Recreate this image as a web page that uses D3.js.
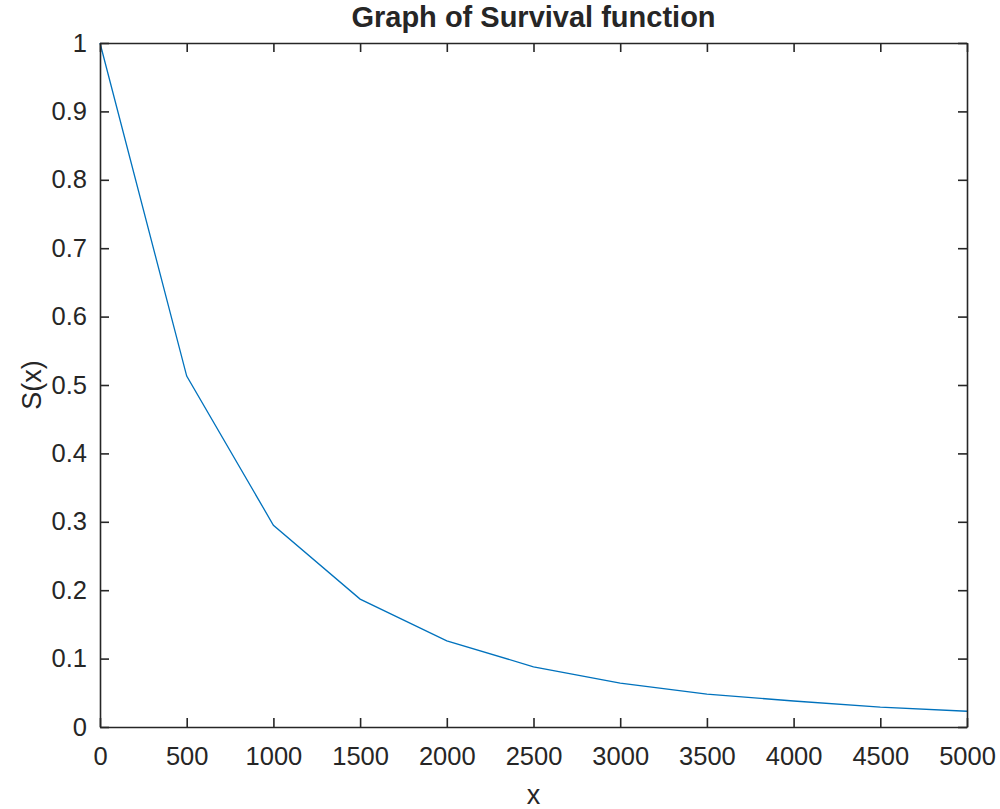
<!DOCTYPE html>
<html><head><meta charset="utf-8">
<script src="https://cdn.jsdelivr.net/npm/d3@7"></script>
<style>body{margin:0;background:#fff}svg{display:block}text{font-family:"Liberation Sans",Arial,sans-serif;fill:#262626}</style>
</head><body>
<svg id="c" width="1000" height="809"></svg>
<script>
const xs = [0,500,1000,1500,2000,2500,3000,3500,4000,4500,5000];
const sx = [1.0,0.513,0.295,0.187,0.126,0.088,0.064,0.048,0.038,0.029,0.023];
const xTicks = [0,500,1000,1500,2000,2500,3000,3500,4000,4500,5000];
const yTicks = [0,0.1,0.2,0.3,0.4,0.5,0.6,0.7,0.8,0.9,1];
const title = "Graph of Survival function";
const xLabel = "x", yLabel = "S(x)";

const svg = d3.select("#c");
const L=100,R=967,T=43,B=727;
const x = d3.scaleLinear().domain([0,5000]).range([L,R]);
const y = d3.scaleLinear().domain([0,1]).range([B,T]);
const col="#262626";

svg.append("path").datum(xs.map((d,i)=>[d,sx[i]]))
 .attr("fill","none").attr("stroke","#0072BD").attr("stroke-width",1.3)
 .attr("d",d3.line().x(d=>x(d[0])).y(d=>y(d[1])));

const tl=9;
const fmt=d=>String(d);
const gb=svg.append("g").attr("transform",`translate(0,${B})`).call(d3.axisBottom(x).tickValues(xTicks).tickFormat(fmt).tickSizeInner(-tl).tickSizeOuter(0).tickPadding(20));
const gt=svg.append("g").attr("transform",`translate(0,${T})`).call(d3.axisTop(x).tickValues(xTicks).tickFormat("").tickSizeInner(-tl).tickSizeOuter(0));
const gl=svg.append("g").attr("transform",`translate(${L},0)`).call(d3.axisLeft(y).tickValues(yTicks).tickFormat(fmt).tickSizeInner(-tl).tickSizeOuter(0).tickPadding(13));
const gr=svg.append("g").attr("transform",`translate(${R},0)`).call(d3.axisRight(y).tickValues(yTicks).tickFormat("").tickSizeInner(-tl).tickSizeOuter(0));
[gb,gt,gl,gr].forEach(g=>{g.selectAll("path.domain").attr("stroke",col).attr("stroke-width",1.6);
 g.selectAll("line").attr("stroke",col).attr("stroke-width",1.6);
 g.selectAll("text").attr("font-size",25.5).attr("fill",col).style("font-family",'"Liberation Sans",Arial,sans-serif');});
gb.selectAll("text").attr("dy","0.71em");

svg.append("text").attr("x",(L+R)/2).attr("y",27).attr("text-anchor","middle").attr("font-size",29).attr("font-weight","bold").text(title);
svg.append("text").attr("x",(L+R)/2).attr("y",804).attr("text-anchor","middle").attr("font-size",27).text(xLabel);
svg.append("text").attr("transform",`translate(41,${(T+B)/2}) rotate(-90)`).attr("text-anchor","middle").attr("font-size",27).text(yLabel);
</script>
</body></html>
